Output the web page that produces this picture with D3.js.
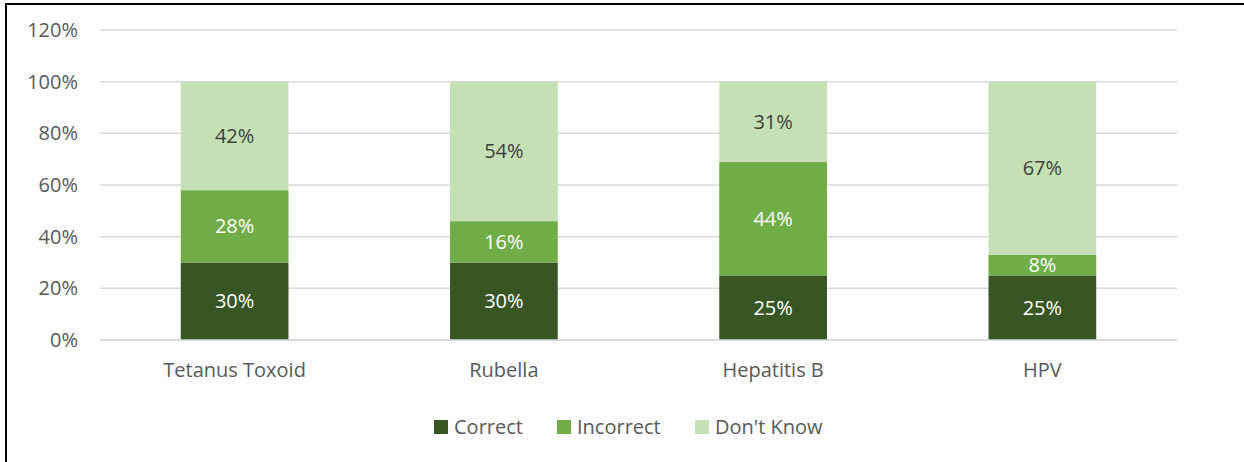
<!DOCTYPE html>
<html>
<head>
<meta charset="utf-8">
<script src="https://cdn.jsdelivr.net/npm/d3@7"></script>
<style>
  body { margin: 0; background: #fff; }
  text { font-family: "Open Sans", "Noto Sans", sans-serif; }
</style>
</head>
<body>
<svg id="chart" width="1244" height="462"></svg>
<script>
// data
const categories = ["Tetanus Toxoid", "Rubella", "Hepatitis B", "HPV"];
const seriesNames = ["Correct", "Incorrect", "Don't Know"];
const correct = [30, 30, 25, 25];
const incorrect = [28, 16, 44, 8];
const dontKnow = [42, 54, 31, 67];
const yTicks = [0, 20, 40, 60, 80, 100, 120];

const colors = ["#375623", "#70ad47", "#c5e0b4"];
const labelColors = ["#ffffff", "#ffffff", "#404040"];

const svg = d3.select("#chart");
const W = 1244, H = 462;
const mLeft = 100, mRight = 1177, mTop = 30, mBottom = 340;
const fs = 20;

svg.append("rect").attr("width", W).attr("height", H).attr("fill", "#fff");

// border (only top and left visible in the crop)
svg.append("line").attr("x1", 5).attr("x2", W).attr("y1", 4).attr("y2", 4)
  .attr("stroke", "#000").attr("stroke-width", 2);
svg.append("line").attr("x1", 6).attr("x2", 6).attr("y1", 3).attr("y2", H)
  .attr("stroke", "#000").attr("stroke-width", 2);

const x = d3.scaleBand().domain(categories).range([mLeft, mRight]).paddingInner(0.6).paddingOuter(0.3);
const y = d3.scaleLinear().domain([0, 120]).range([mBottom, mTop]);

// gridlines
svg.append("g").selectAll("line").data(yTicks).join("line")
  .attr("x1", mLeft).attr("x2", mRight)
  .attr("y1", d => y(d)).attr("y2", d => y(d))
  .attr("stroke", "#d9d9d9").attr("stroke-width", 1.5);

// y tick labels
svg.append("g").selectAll("text").data(yTicks).join("text")
  .attr("x", 78).attr("y", d => y(d)).attr("dy", "0.35em")
  .attr("text-anchor", "end").attr("font-size", fs).attr("fill", "#595959")
  .text(d => d + "%");

// stack
const rows = categories.map((c, i) => ({ cat: c, "Correct": correct[i], "Incorrect": incorrect[i], "Don't Know": dontKnow[i] }));
const stacked = d3.stack().keys(seriesNames)(rows);

const layers = svg.append("g").selectAll("g").data(stacked).join("g")
  .attr("fill", (d, i) => colors[i]);
layers.selectAll("rect").data(d => d).join("rect")
  .attr("x", d => x(d.data.cat))
  .attr("width", x.bandwidth())
  .attr("y", d => y(d[1]))
  .attr("height", d => y(d[0]) - y(d[1]));

// data labels
stacked.forEach((layer, i) => {
  svg.append("g").selectAll("text").data(layer).join("text")
    .attr("x", d => x(d.data.cat) + x.bandwidth() / 2)
    .attr("y", d => (y(d[0]) + y(d[1])) / 2)
    .attr("dy", "0.35em")
    .attr("text-anchor", "middle").attr("font-size", fs)
    .attr("fill", labelColors[i])
    .text(d => (d[1] - d[0]) + "%");
});

// bottom axis line
svg.append("line").attr("x1", mLeft).attr("x2", mRight).attr("y1", mBottom).attr("y2", mBottom)
  .attr("stroke", "#d9d9d9").attr("stroke-width", 1.5);

// category labels
svg.append("g").selectAll("text").data(categories).join("text")
  .attr("x", d => x(d) + x.bandwidth() / 2).attr("y", 370).attr("dy", "0.35em")
  .attr("text-anchor", "middle").attr("font-size", fs).attr("fill", "#595959")
  .text(d => d);

// legend
const legendX = [434, 557, 695];
const lg = svg.append("g").selectAll("g").data(seriesNames).join("g")
  .attr("transform", (d, i) => `translate(${legendX[i]},427)`);
lg.append("rect").attr("x", 0).attr("y", -7).attr("width", 14).attr("height", 14)
  .attr("fill", (d, i) => colors[i]);
lg.append("text").attr("x", 20).attr("dy", "0.35em").attr("font-size", fs)
  .attr("fill", "#595959").text(d => d);
</script>
</body>
</html>
